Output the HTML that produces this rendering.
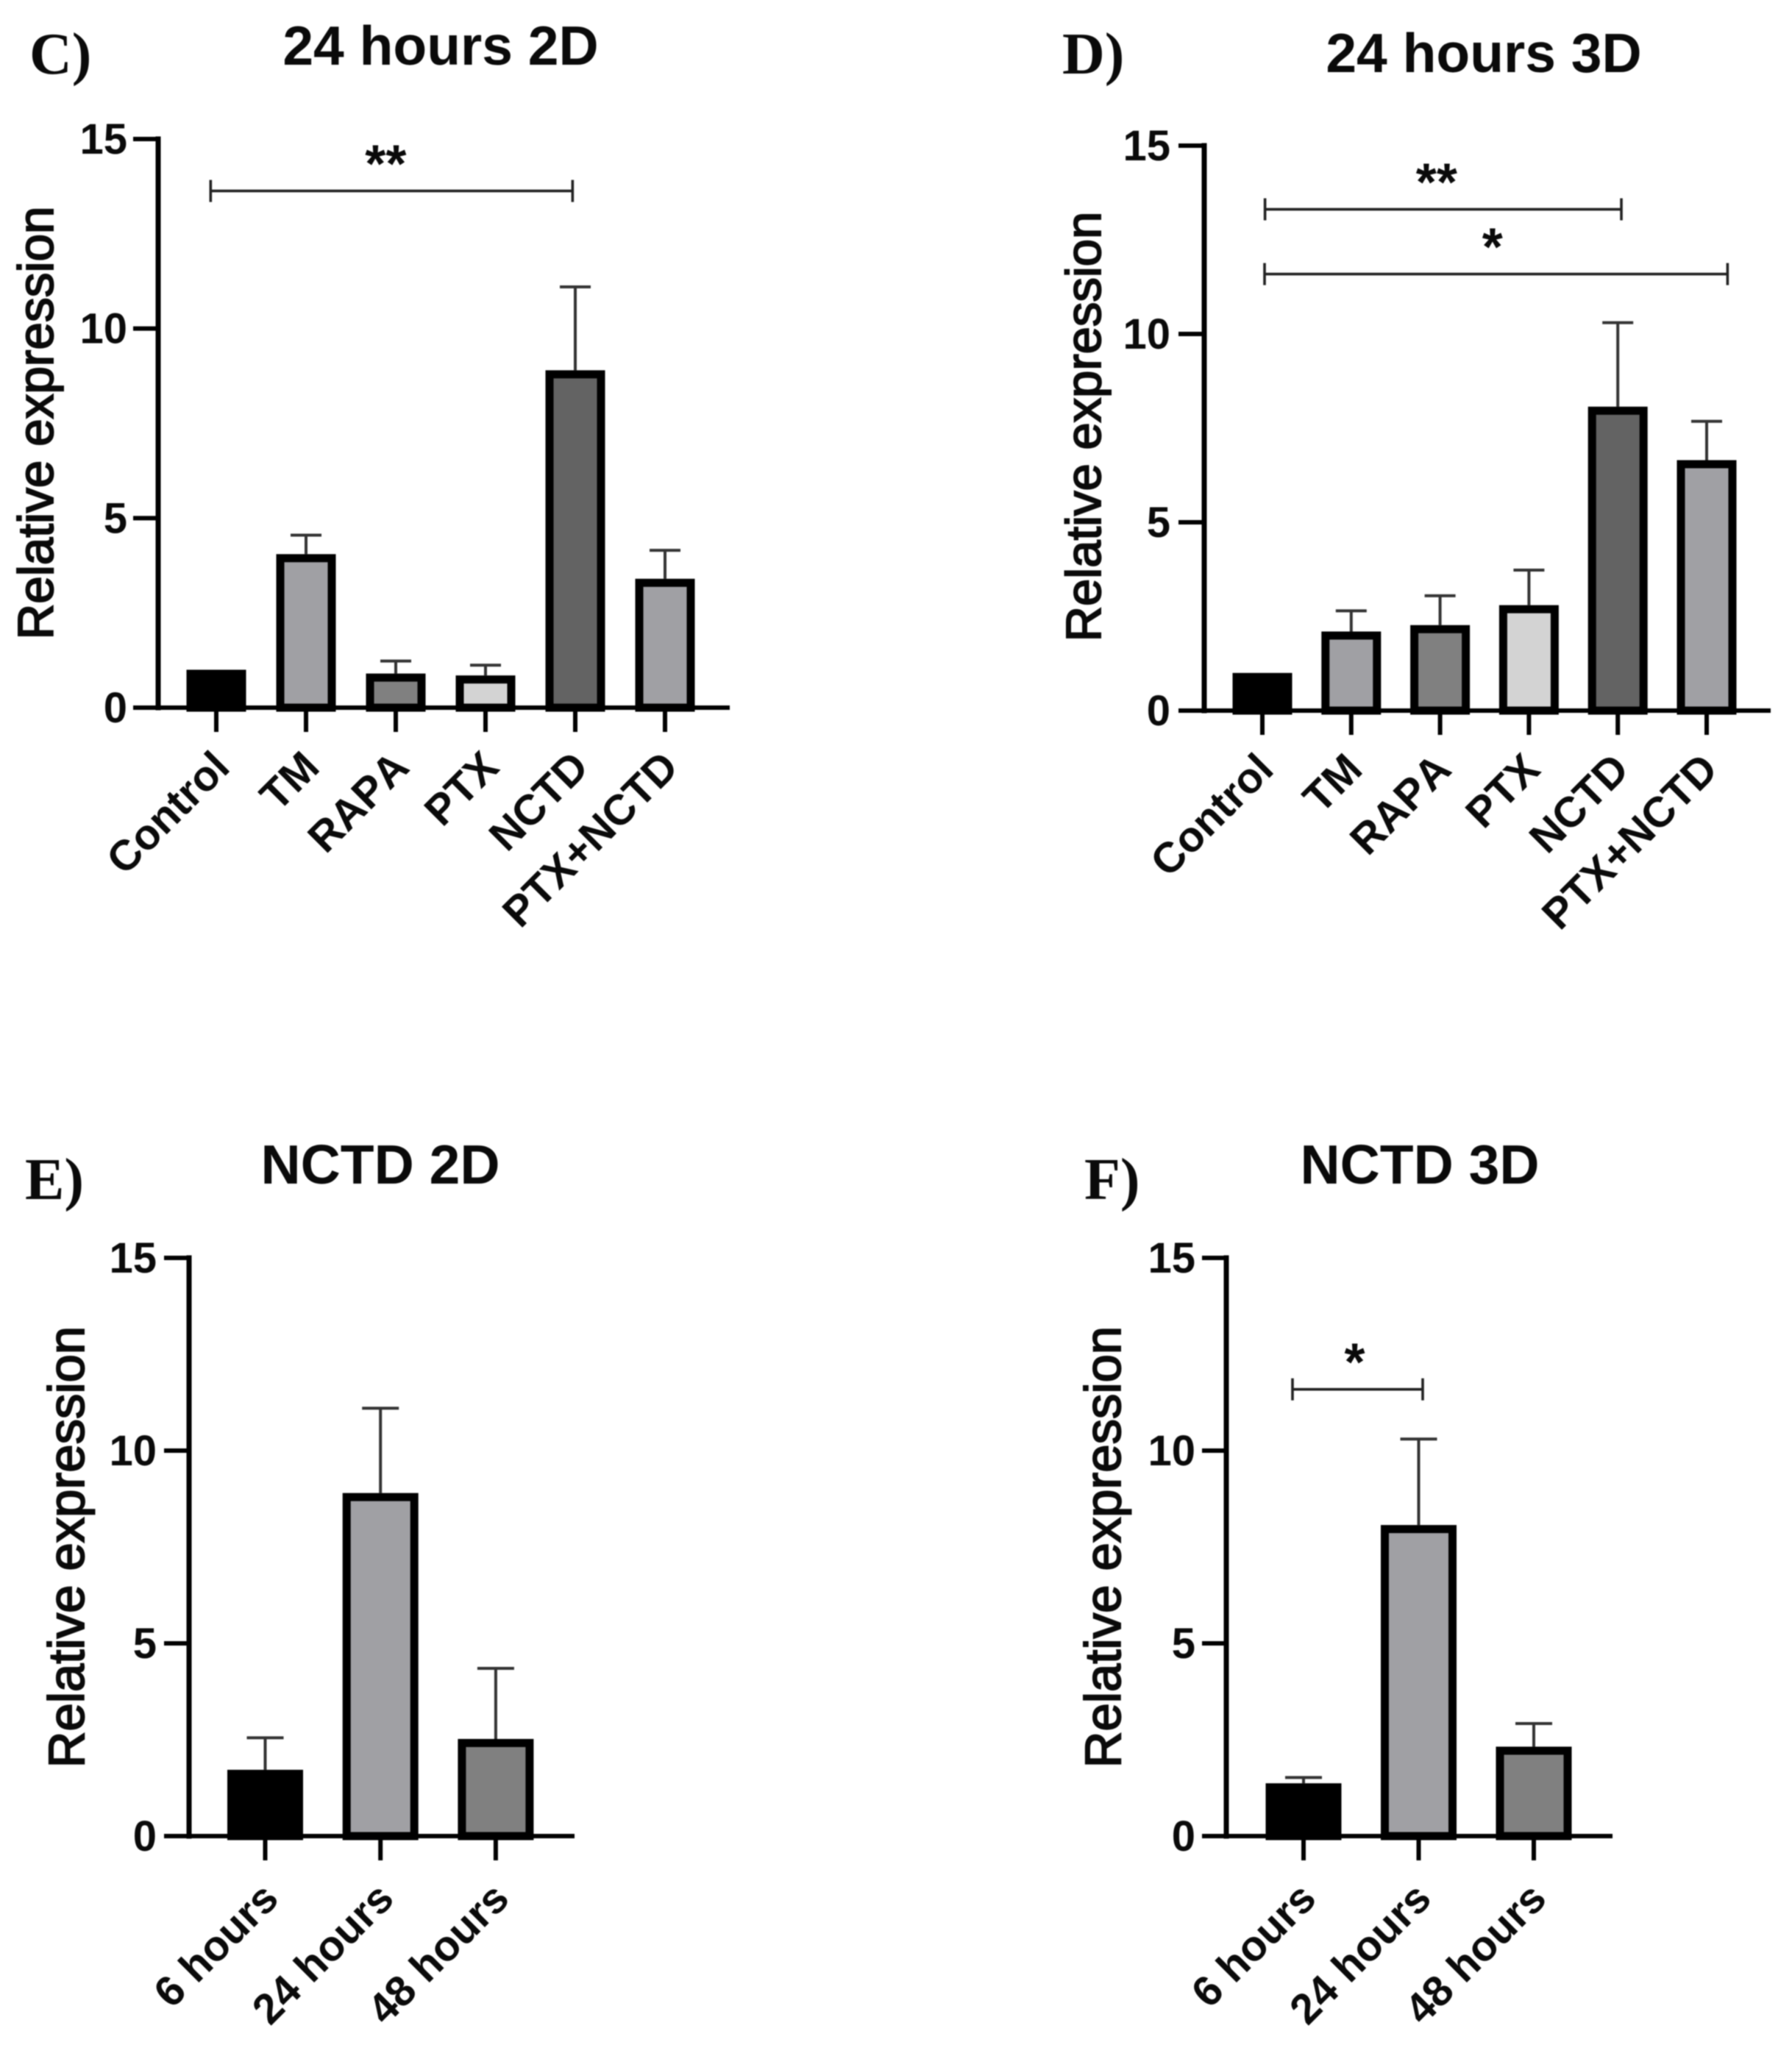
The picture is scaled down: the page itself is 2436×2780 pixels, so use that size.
<!DOCTYPE html>
<html lang="en">
<head>
<meta charset="utf-8">
<title>Relative expression panels</title>
<style>
html,body{margin:0;padding:0;background:#fff;}
svg{display:block;filter:blur(0.7px);}
text{font-family:"Liberation Sans",Arial,sans-serif;fill:#0a0a0a;font-kerning:none;}
</style>
</head>
<body>
<svg id="figure" xmlns="http://www.w3.org/2000/svg" width="2436" height="2780" viewBox="0 0 2436 2780"></svg>
<script>
const yTickValues = [0, 5, 10, 15];

const treatmentCategories = ['Control', 'TM', 'RAPA', 'PTX', 'NCTD', 'PTX+NCTD'];
const timeCategories = ['6 hours', '24 hours', '48 hours'];

const panelCValues = [1, 4.05, 0.9, 0.85, 8.9, 3.4];
const panelCErrorTops = [null, 4.55, 1.23, 1.12, 11.1, 4.15];
const panelCBrackets = [{from: -0.063, to: 3.97, level: 13.63, mark: '**', shift: -8}];

const panelDValues = [1, 2.1, 2.27, 2.8, 8.07, 6.65];
const panelDErrorTops = [null, 2.65, 3.05, 3.73, 10.3, 7.68];
const panelDBrackets = [
  {from: 0.03, to: 4.04, level: 13.31, mark: '**', shift: -9},
  {from: 0.025, to: 5.235, level: 11.59, mark: '*', shift: -5}
];

const panelEValues = [1.72, 8.9, 2.52];
const panelEErrorTops = [2.55, 11.1, 4.35];
const panelEBrackets = [];

const panelFValues = [1.37, 8.07, 2.32];
const panelFErrorTops = [1.52, 10.3, 2.92];
const panelFBrackets = [{from: -0.096, to: 1.035, level: 11.59, mark: '*', shift: -4}];

const treatmentFills = ['#000000', '#a0a0a4', '#808080', '#d3d3d3', '#636363', '#a0a0a4'];
const timeFills = ['#000000', '#a0a0a4', '#808080'];

const panels = [
  {id: 'c', letter: 'C)', letterX: 40, letterY: 100, title: '24 hours 2D', titleX: 599, titleY: 88,
   axisX: 215, tickLeft: 181, xEnd: 992, yTop: 189, yZero: 962, first: 294, step: 122, barW: 81, capW: 42,
   labelRight: 173, titleBase: 72, titleMid: 575, titleSize: 67.5, labelDx: 21, labelDy: 84,
   categories: treatmentCategories, values: panelCValues,
   errors: panelCErrorTops, fills: treatmentFills, brackets: panelCBrackets},
  {id: 'd', letter: 'D)', letterX: 1444, letterY: 100, title: '24 hours 3D', titleX: 2017, titleY: 98,
   axisX: 1637, tickLeft: 1602, xEnd: 2407, yTop: 198, yZero: 966, first: 1716, step: 120.8, barW: 81, capW: 42,
   labelRight: 1591, titleBase: 1496, titleMid: 580, titleSize: 67, labelDx: 18, labelDy: 83,
   categories: treatmentCategories, values: panelDValues,
   errors: panelDErrorTops, fills: treatmentFills, brackets: panelDBrackets},
  {id: 'e', letter: 'E)', letterX: 34, letterY: 1630, title: 'NCTD 2D', titleX: 517, titleY: 1609,
   axisX: 257, tickLeft: 223, xEnd: 781, yTop: 1710, yZero: 2496, first: 360.5, step: 156.7, barW: 103, capW: 50,
   labelRight: 213, titleBase: 114, titleMid: 2103, titleSize: 68.8, labelDx: 21, labelDy: 88,
   categories: timeCategories, values: panelEValues,
   errors: panelEErrorTops, fills: timeFills, brackets: panelEBrackets},
  {id: 'f', letter: 'F)', letterX: 1474, letterY: 1630, title: 'NCTD 3D', titleX: 1930, titleY: 1609,
   axisX: 1667, tickLeft: 1634, xEnd: 2192, yTop: 1710, yZero: 2496, first: 1772, step: 156.5, barW: 103, capW: 50,
   labelRight: 1625, titleBase: 1523, titleMid: 2103, titleSize: 68.8, labelDx: 20, labelDy: 88,
   categories: timeCategories, values: panelFValues,
   errors: panelFErrorTops, fills: timeFills, brackets: panelFBrackets}
];

const NS = 'http://www.w3.org/2000/svg';
const svg = document.getElementById('figure');

function make(tag, parent, props, content) {
  const el = document.createElementNS(NS, tag);
  for (const key in props) el.setAttribute(key, props[key]);
  if (content !== undefined) el.textContent = content;
  parent.appendChild(el);
  return el;
}

function line(parent, x1, y1, x2, y2, width, color) {
  return make('line', parent, {x1: x1, y1: y1, x2: x2, y2: y2, stroke: color, 'stroke-width': width});
}

panels.forEach(function (p) {
  const yScale = function (v) { return p.yZero - v * (p.yZero - p.yTop) / 15; };
  const xScale = function (i) { return p.first + i * p.step; };
  const group = make('g', svg, {});
  
  

  const letter = make('text', group, {x: p.letterX, y: p.letterY, 'font-size': 80, 'font-weight': 'bold', style: 'font-family:"Liberation Serif",serif'}, p.letter);
  
  

  const title = make('text', group, {x: p.titleX, y: p.titleY, 'font-size': 75, 'font-weight': 'bold', 'text-anchor': 'middle'}, p.title);
  
  

  const yTitle = make('text', group, {x: 0, y: 0, 'font-size': p.titleSize, 'text-anchor': 'middle', stroke: '#0a0a0a', 'stroke-width': 2, transform: 'translate(' + p.titleBase + ',' + p.titleMid + ') rotate(-90)'}, 'Relative expression');
  
  

  // bars and error bars
  p.values.forEach(function (v, i) {
    const cx = xScale(i);
    const stroke = 11;
    if (p.errors[i] !== null) {
      const stem = line(group, cx, yScale(p.errors[i]), cx, yScale(v), 4, '#333');
      
      
      const cap = line(group, cx - p.capW / 2, yScale(p.errors[i]), cx + p.capW / 2, yScale(p.errors[i]), 4, '#333');
      
      
    }
    const bar = make('rect', group, {
      x: cx - p.barW / 2 + stroke / 2,
      y: yScale(v) + stroke / 2,
      width: p.barW - stroke,
      height: Math.max(0, yScale(0) - yScale(v) - stroke / 2),
      fill: p.fills[i],
      stroke: '#000',
      'stroke-width': stroke
    });
    
    
  });

  // y axis
  const yAxis = line(group, p.axisX, p.yTop - 3.5, p.axisX, p.yZero + 3.5, 7, '#000');
  
  
  yTickValues.forEach(function (t) {
    const tick = line(group, p.tickLeft, yScale(t), p.axisX, yScale(t), 6, '#000');
    
    
    const label = make('text', group, {x: p.labelRight, y: yScale(t) + 20, 'font-size': 58, 'font-weight': 'bold', 'text-anchor': 'end'}, t);
    
    
  });

  // x axis
  const xAxis = line(group, p.tickLeft, p.yZero, p.xEnd, p.yZero, 6, '#000');
  
  
  p.categories.forEach(function (c, i) {
    const cx = xScale(i);
    const tick = line(group, cx, p.yZero, cx, p.yZero + 33, 6, '#000');
    
    
    const label = make('text', group, {x: 0, y: 0, 'font-size': 58, 'font-weight': 'bold', 'text-anchor': 'end', transform: 'translate(' + (cx + p.labelDx) + ',' + (p.yZero + p.labelDy) + ') rotate(-45)'}, c);
    
    
  });

  // significance brackets
  p.brackets.forEach(function (b) {
    const x1 = xScale(b.from);
    const x2 = xScale(b.to);
    const y = yScale(b.level);
    const g = make('g', group, {});
    
    
    line(g, x1, y, x2, y, 3.6, '#222');
    line(g, x1, y - 15, x1, y + 15, 3.6, '#222');
    line(g, x2, y - 15, x2, y + 15, 3.6, '#222');
    const mark = make('text', g, {x: (x1 + x2) / 2 + b.shift, y: y - 12, 'font-size': 72, 'font-weight': 'bold', 'text-anchor': 'middle'}, b.mark);
    
    
  });
});
</script>
</body>
</html>
